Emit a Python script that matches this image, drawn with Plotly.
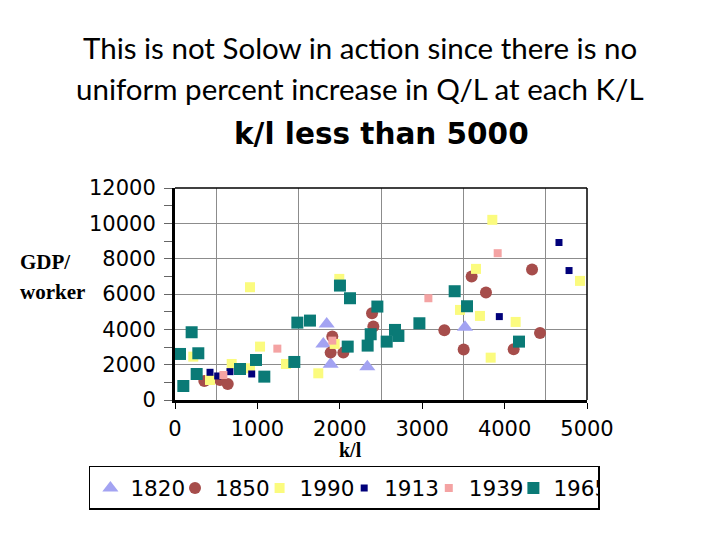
import plotly.graph_objects as go

# ---- data (k/l, GDP/worker) ----
x_1820 = [1841, 1800, 1889, 2334, 3519]
y_1820 = [4306, 3173, 2022, 1887, 4119]

x_1850 = [356, 546, 640, 1909, 1889, 2043, 2391, 2407, 3600, 3774, 4333, 3269, 3503, 4110, 4430]
y_1850 = [1076, 1130, 900, 3588, 2682, 2682, 4910, 4155, 6988, 6081, 7385, 3947, 2852, 2870, 3796]

x_1990 = [222, 425, 688, 910, 910, 1032, 1347, 1739, 1994, 1938, 3851, 3653, 3459, 3701, 4134, 3831, 4915]
y_1990 = [2455, 1133, 2040, 1796, 6384, 3022, 2040, 1511, 6855, 3173, 10198, 7422, 5099, 4759, 4419, 2397, 6742]

x_1913 = [425, 518, 667, 931, 4660, 4782, 3936]
y_1913 = [1568, 1360, 1605, 1473, 8914, 7328, 4721]

x_1939 = [587, 1242, 1909, 3075, 3916]
y_1939 = [1416, 2908, 3361, 5760, 8310]

x_1965 = [61, 202, 283, 101, 263, 789, 983, 1084, 1448, 1485, 1638, 2002, 2124, 2096,
          2375, 2456, 2338, 2569, 2670, 2711, 2966, 3394, 3544, 4175]
y_1965 = [2606, 3835, 2645, 793, 1473, 1756, 2266, 1322, 2153, 4380, 4495, 6478, 5760, 3022,
          3722, 5289, 3079, 3305, 3966, 3626, 4344, 6157, 5307, 3305]

x_ticks = [0, 1000, 2000, 3000, 4000, 5000]
x_labels = ["0", "1000", "2000", "3000", "4000", "5000"]
y_ticks = [0, 2000, 4000, 6000, 8000, 10000, 12000]
y_labels = ["0", "2000", "4000", "6000", "8000", "10000", "12000"]

fig = go.Figure()
series = [
    ("1820", x_1820, y_1820, "triangle-up", 14, "#a3a3f2"),
    ("1850", x_1850, y_1850, "circle", 12, "#a64d4b"),
    ("1990", x_1990, y_1990, "square", 10, "#fbfb7e"),
    ("1913", x_1913, y_1913, "square", 7, "#00007a"),
    ("1939", x_1939, y_1939, "square", 8, "#f4a3a3"),
    ("1965", x_1965, y_1965, "square", 12, "#0a7a76"),
]
for name, xs, ys, sym, size, col in series:
    fig.add_trace(go.Scatter(x=xs, y=ys, mode="markers", name=name,
                             marker=dict(symbol=sym, size=size, color=col, line=dict(width=0))))

# the page body adds an 8px offset, so margins are reduced by 8 on the left/top
fig.update_layout(
    width=720, height=540,
    margin=dict(l=167, r=141, t=180, b=148, autoexpand=False),
    paper_bgcolor="white", plot_bgcolor="white",
    font=dict(family="DejaVu Sans", color="black"),
    showlegend=True,
    legend=dict(orientation="h", x=-0.209, y=-0.311, xanchor="left", yanchor="top",
                bordercolor="black", borderwidth=1.5, font=dict(size=21.5, family="DejaVu Sans"),
                entrywidth=39.6, entrywidthmode="pixels", bgcolor="white"),
    xaxis=dict(range=[0, 5000], tickvals=x_ticks, ticktext=x_labels, ticks="outside", ticklen=6,
               tickcolor="black", showgrid=False, zeroline=False, showline=True, linecolor="black",
               linewidth=3, tickfont=dict(size=21), fixedrange=True, ticklabelstandoff=2,
               minor=dict(tick0=500, dtick=1000, showgrid=True, gridcolor="#8c8c8c", gridwidth=1, ticks="")),
    yaxis=dict(range=[0, 12000], tickvals=y_ticks, ticktext=y_labels, ticks="outside", ticklen=8,
               tickcolor="#666", showgrid=True, gridcolor="#8c8c8c", gridwidth=1, zeroline=False,
               showline=True, linecolor="black", linewidth=3, tickfont=dict(size=21), fixedrange=True,
               ticklabelstandoff=4,
               minor=dict(dtick=1000, ticks="outside", ticklen=8, tickcolor="#666", showgrid=False)),
)

# frame top/right
fig.add_shape(type="line", xref="paper", yref="paper", x0=0, x1=1, y0=1, y1=1,
              line=dict(color="black", width=1.5))
fig.add_shape(type="line", xref="paper", yref="paper", x0=1, x1=1, y0=0, y1=1,
              line=dict(color="black", width=1.5))

def px(xp):
    return (xp - 175) / 412.0

def py(yp):
    return (400 - yp) / 212.0

ann = [
    dict(text="This is not Solow in action since there is no", x=px(360), y=py(48),
         font=dict(family="Lato", size=29.5, color="black")),
    dict(text="uniform percent increase in Q/L at each K/L", x=px(360), y=py(88),
         font=dict(family="Lato", size=29.5, color="black")),
    dict(text="<b>k/l less than 5000</b>", x=px(381), y=py(134),
         font=dict(family="DejaVu Sans", size=29.5, color="black")),
    dict(text="<b>k/l</b>", x=px(350), y=py(450),
         font=dict(family="Liberation Serif", size=20, color="black")),
]
for a in ann:
    fig.add_annotation(xref="paper", yref="paper", showarrow=False, xanchor="center",
                       yanchor="middle", **a)
for t, yy in [("<b>GDP/</b>", 262), ("<b>worker</b>", 292)]:
    fig.add_annotation(xref="paper", yref="paper", showarrow=False, xanchor="left",
                       yanchor="middle", x=px(18), y=py(yy), text=t,
                       font=dict(family="Liberation Serif", size=21, color="black"))

fig.write_html("out.html")
